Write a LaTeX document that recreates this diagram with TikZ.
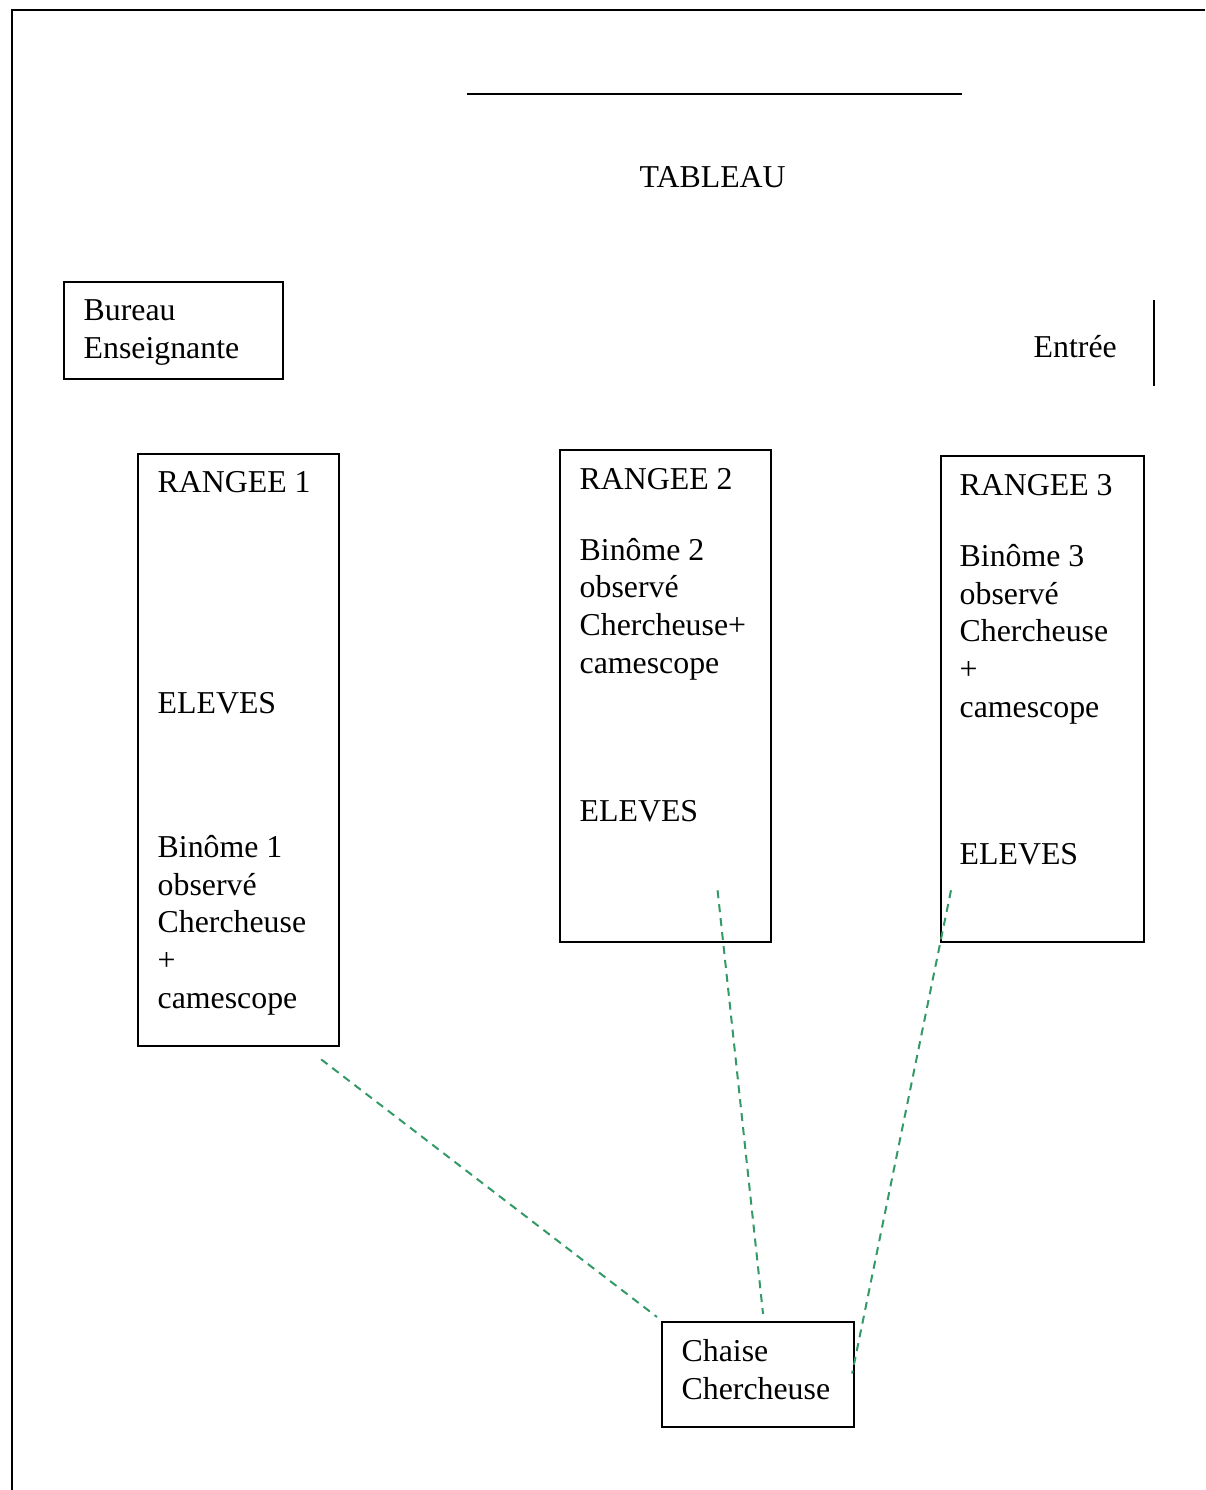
\documentclass[tikz,border=0pt]{standalone}
\usepackage{fontspec}
\setmainfont{Liberation Serif}
\usetikzlibrary{calc,positioning}
\definecolor{vue}{RGB}{51,153,102}

\begin{document}
\begin{tikzpicture}[x=0.01cm,y=-0.01cm,
    box/.style={draw,line width=0.02cm,inner sep=0pt,anchor=north west},
    txt/.style={anchor=base west,inner sep=0pt,align=left},
    vision/.style={vue,line width=0.02cm,dash pattern=on 0.08cm off 0.06cm}]
  \fontsize{9.05}{10.67}\selectfont
  \useasboundingbox (0,0) rectangle (1205,1490);
  % murs de la classe
  \draw[line width=0.022cm] (12,1490) -- (12,10) -- (1205,10);
  % tableau et porte
  \draw[line width=0.02cm] (467,94) -- (962,94);
  \node[txt] (tableau) at (639,187) {TABLEAU};
  \draw[line width=0.02cm] (1154,300) -- (1154,386);
  \node[txt] (entree) at (1033,357) {Entrée};
  % bureau (base = derniere ligne)
  \node[box,minimum width=2.19cm,minimum height=0.97cm] (bureau) at (63,281) {};
  \node[txt] (bureautxt) at (83,358) {Bureau\\Enseignante};
  % rangees
  \node[box,minimum width=2.01cm,minimum height=5.92cm] (rangee1) at (137,453) {};
  \node[box,minimum width=2.11cm,minimum height=4.92cm] (rangee2) at (559,449) {};
  \node[box,minimum width=2.03cm,minimum height=4.86cm] (rangee3) at (940,455) {};
  \node[txt] (r1titre) at (157,492) {RANGEE 1};
  \node[txt] (r1eleves) at (157,713) {ELEVES};
  \node[txt] (r1binome) at (157,1008) {Binôme 1\\observé\\Chercheuse\\+\\camescope};
  \node[txt] (r2titre) at (579,489) {RANGEE 2};
  \node[txt] (r2binome) at (579,673) {Binôme 2\\observé\\Chercheuse+\\camescope};
  \node[txt] (r2eleves) at (579,821) {ELEVES};
  \node[txt] (r3titre) at (959,495) {RANGEE 3};
  \node[txt] (r3binome) at (959,717) {Binôme 3\\observé\\Chercheuse\\+\\camescope};
  \node[txt] (r3eleves) at (959,864) {ELEVES};
  % chaise
  \node[box,minimum width=1.92cm,minimum height=1.05cm] (chaise) at (661,1321) {};
  \node[txt] (chaisetxt) at (681,1399) {Chaise\\Chercheuse};
  % champs de vision
  \coordinate (v1) at ($(rangee1.south east)+(-19,12)$);
  \coordinate (v2) at ($(rangee2.south)+(52,-53)$);
  \coordinate (v3) at ($(rangee3.south west)+(11,-53)$);
  \coordinate (c1) at ($(chaise.north west)+(-4,-4)$);
  \coordinate (c2) at ($(chaise.north)+(5,-7)$);
  \coordinate (c3) at ($(chaise.east)+(-3,-1)$);
  \draw[vision] (v1) -- (c1);
  \draw[vision] (v2) -- (c2);
  \draw[vision] (v3) -- (c3);
\end{tikzpicture}
\end{document}
